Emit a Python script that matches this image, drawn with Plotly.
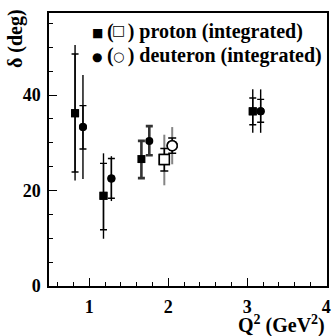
import plotly.graph_objects as go

# Integrated proton results (filled squares): Q^2, delta, inner and outer errors
p_q2 = [0.82, 1.18, 3.07]
p_delta = [36.2, 18.9, 36.6]
p_in_up = [12.4, 6.8, 2.8]
p_in_dn = [12.3, 7.1, 2.8]
p_out_up = [14.3, 8.9, 4.6]
p_out_dn = [14.1, 9.0, 4.5]

# Integrated deuteron results (filled circles)
d_q2 = [0.92, 1.28, 3.17]
d_delta = [33.3, 22.5, 36.6]
d_in_up = [4.5, 4.2, 2.5]
d_in_dn = [4.6, 4.1, 2.3]
d_out_up = [10.9, 4.7, 4.6]
d_out_dn = [10.9, 4.7, 4.5]

# Single-error points near Q^2 = 1.7
p2_q2 = [1.66]
p2_delta = [26.6]
p2_up = [3.8]
p2_dn = [4.0]
d2_q2 = [1.76]
d2_delta = [30.4]
d2_up = [3.1]
d2_dn = [3.0]

# Open symbols near Q^2 = 2
po_q2 = [1.95]
po_delta = [26.5]
po_in_up = [2.3]
po_in_dn = [2.4]
po_out_up = [5.2]
po_out_dn = [5.4]
do_q2 = [2.05]
do_delta = [29.4]
do_in_up = [1.6]
do_in_dn = [1.6]
do_out_up = [3.9]
do_out_dn = [3.9]

FONT = "Liberation Serif, Times New Roman, serif"
SYM_FONT = "DejaVu Sans"

fig = go.Figure()


def err(up, dn, color, thick, cap):
    return dict(type="data", symmetric=False, array=up, arrayminus=dn,
                color=color, thickness=thick, width=cap)


def add(x, y, ey, symbol, size, fill, lw=0):
    fig.add_trace(go.Scatter(
        x=x, y=y, mode="markers", error_y=ey, showlegend=False,
        marker=dict(symbol=symbol, size=size, color=fill,
                    line=dict(color="black", width=lw)),
        hoverinfo="skip"))


# outer error lines (no caps), then inner error ticks with the marker
add(p_q2, p_delta, err(p_out_up, p_out_dn, "black", 1.4, 0), "square", 8, "black")
add(p_q2, p_delta, err(p_in_up, p_in_dn, "black", 1.4, 3.5), "square", 8, "black")
add(d_q2, d_delta, err(d_out_up, d_out_dn, "black", 1.4, 0), "circle", 8, "black")
add(d_q2, d_delta, err(d_in_up, d_in_dn, "black", 1.4, 3.5), "circle", 8, "black")

add(p2_q2, p2_delta, err(p2_up, p2_dn, "#333333", 2.6, 3.5), "square", 8, "black")
add(d2_q2, d2_delta, err(d2_up, d2_dn, "#333333", 2.6, 3.5), "circle", 8, "black")

add(po_q2, po_delta, err(po_out_up, po_out_dn, "#858585", 2.0, 0), "square", 10, "white", 1.5)
add(po_q2, po_delta, err(po_in_up, po_in_dn, "black", 1.4, 4), "square", 10, "white", 1.5)
add(do_q2, do_delta, err(do_out_up, do_out_dn, "#858585", 2.0, 0), "circle", 10, "white", 1.5)
add(do_q2, do_delta, err(do_in_up, do_in_dn, "black", 1.4, 4), "circle", 10, "white", 1.5)

x_ticks = [1, 2, 3, 4]
y_ticks = [0, 20, 40]

axis_common = dict(
    showline=True, linecolor="black", linewidth=1.5, mirror=True,
    ticks="inside", ticklen=8, tickwidth=1.2, tickcolor="black",
    showgrid=False, zeroline=False,
    tickfont=dict(family=FONT, size=18, color="black", weight="bold"),
)

fig.update_xaxes(range=[0.49, 4.01], tickvals=x_ticks,
                 minor=dict(ticks="inside", ticklen=4, dtick=0.2, tick0=0,
                            tickcolor="black", tickwidth=1.2),
                 ticklabelstandoff=4, **axis_common)
fig.update_yaxes(range=[0, 57.2], tickvals=y_ticks,
                 minor=dict(ticks="inside", ticklen=4, dtick=5, tick0=0,
                            tickcolor="black", tickwidth=1.2),
                 ticklabelstandoff=3, **axis_common)

# plot-area geometry in pixels, used to place the key in paper units
L, R, T, B = 49, 331, 13, 286


def px(x):
    return (x - L) / (R - L)


def py(y):
    return (B - y) / (B - T)


title_font = dict(family=FONT, size=20, color="black", weight="bold")
key_font = dict(family=FONT, size=20, color="black", weight="bold")


def text(s, x, y, font, xanchor="left", **kw):
    return dict(text=s, xref="paper", yref="paper", x=px(x), y=py(y),
                xanchor=xanchor, yanchor="middle", showarrow=False,
                font=font, **kw)


def glyph(s, x, y, size):
    return text(s, x, y, dict(family=SYM_FONT, size=size, color="black"),
                xanchor="center")


gap = "\u2002\u2009"
annotations = [
    dict(text="Q<sup>2</sup> (GeV<sup>2</sup>)", xref="paper", yref="paper",
         x=1.0, y=-0.142, xanchor="right", yanchor="middle",
         showarrow=False, font=title_font),
    dict(text="δ (deg)", xref="paper", yref="paper", x=-0.122, y=1.02,
         xanchor="center", yanchor="top", textangle=-90,
         showarrow=False, font=title_font),
    # key: proton line
    glyph("■", 98, 33, 12),
    text("(" + gap + ") proton (integrated)", 106, 32, key_font),
    glyph("□", 119.5, 30, 14),
    # key: deuteron line
    glyph("●", 98, 57, 12),
    text("(" + gap + ") deuteron (integrated)", 106, 55, key_font),
    glyph("○", 120, 57, 13),
]

fig.update_layout(
    width=335, height=336,
    margin=dict(l=L, r=335 - R, t=T, b=336 - B),
    plot_bgcolor="white", paper_bgcolor="white",
    annotations=annotations,
    showlegend=False,
)

fig.write_html("out.html", include_plotlyjs=True, config={"displayModeBar": False})
